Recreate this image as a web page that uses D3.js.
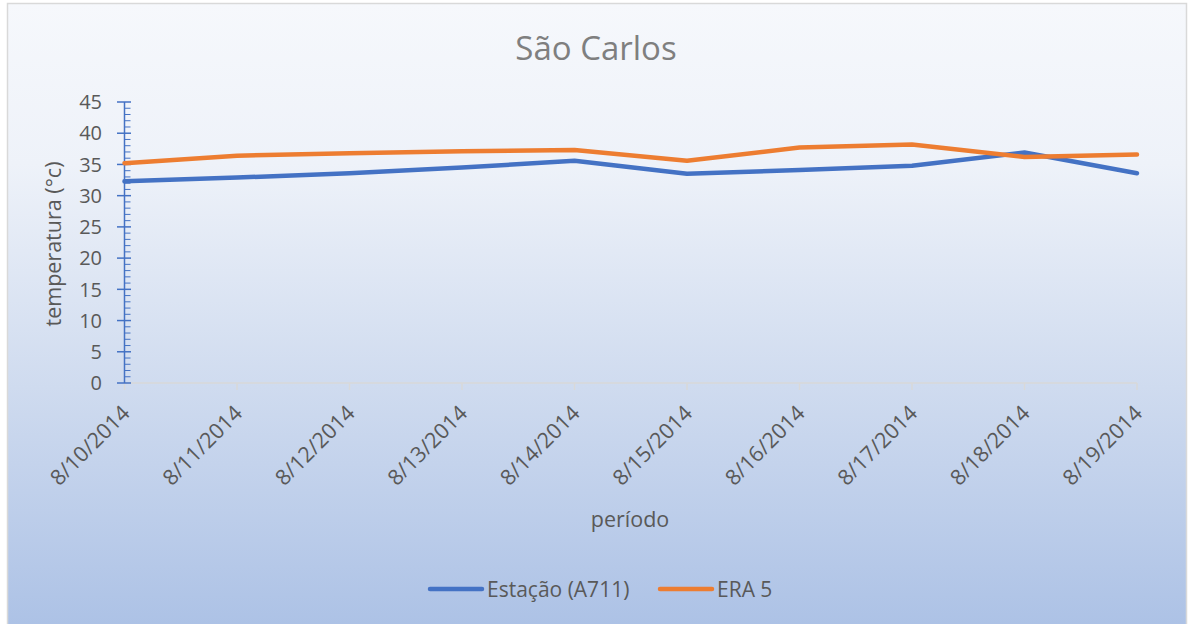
<!DOCTYPE html>
<html><head><meta charset="utf-8">
<script src="https://cdn.jsdelivr.net/npm/d3@7"></script>
<style>html,body{margin:0;padding:0;background:#fff;}svg{display:block;}</style>
</head><body>
<svg id="c" width="1191" height="624"></svg>
<script>
const categories = ["8/10/2014","8/11/2014","8/12/2014","8/13/2014","8/14/2014","8/15/2014","8/16/2014","8/17/2014","8/18/2014","8/19/2014"];
const estacao = [32.3, 32.9, 33.6, 34.5, 35.6, 33.5, 34.1, 34.8, 36.9, 33.6];
const era5 = [35.2, 36.4, 36.8, 37.1, 37.3, 35.6, 37.7, 38.2, 36.2, 36.6];
const yTicks = [0,5,10,15,20,25,30,35,40,45];
const seriesNames = ["Estação (A711)", "ERA 5"];
const colors = ["#4472c4", "#ed7d31"];

const font = "'Open Sans', sans-serif";
const svg = d3.select("#c");
const defs = svg.append("defs");
const grad = defs.append("linearGradient").attr("id","bg").attr("x1",0).attr("y1",0).attr("x2",0).attr("y2",1);
grad.append("stop").attr("offset","0%").attr("stop-color","#f6f8fc");
grad.append("stop").attr("offset","25%").attr("stop-color","#eef2f9");
grad.append("stop").attr("offset","60%").attr("stop-color","#cfdbef");
grad.append("stop").attr("offset","100%").attr("stop-color","#aac0e5");

svg.append("rect").attr("x",7.5).attr("y",3.5).attr("width",1179).attr("height",640)
  .attr("fill","url(#bg)").attr("stroke","#d9d9d9").attr("stroke-width",1.5);

const x = d3.scalePoint().domain(categories).range([124.5, 1137]);
const y = d3.scaleLinear().domain([0,45]).range([383, 102]);

// x axis line + ticks
svg.append("line").attr("x1",124.5).attr("x2",1137).attr("y1",383).attr("y2",383)
  .attr("stroke","#d9d9d9").attr("stroke-width",1.5);
svg.selectAll(".xt").data(categories).enter().append("line")
  .attr("x1",d=>x(d)).attr("x2",d=>x(d)).attr("y1",383).attr("y2",390)
  .attr("stroke","#d9d9d9").attr("stroke-width",1.5);

// y axis
svg.append("line").attr("x1",124.5).attr("x2",124.5).attr("y1",y(45)).attr("y2",y(0))
  .attr("stroke","#4472c4").attr("stroke-width",1.5);
const minor = d3.range(0,46,1).filter(v=>v%5!==0);
svg.selectAll(".ymin").data(minor).enter().append("line")
  .attr("x1",124.5).attr("x2",130.5).attr("y1",d=>y(d)).attr("y2",d=>y(d))
  .attr("stroke","#4472c4").attr("stroke-width",1);
svg.selectAll(".ymaj").data(yTicks).enter().append("line")
  .attr("x1",117).attr("x2",131).attr("y1",d=>y(d)).attr("y2",d=>y(d))
  .attr("stroke","#4472c4").attr("stroke-width",1.5);
svg.selectAll(".yl").data(yTicks).enter().append("text")
  .attr("x",102).attr("y",d=>y(d)).attr("dy","0.36em").attr("text-anchor","end")
  .attr("font-family",font).attr("font-size",20).attr("fill","#595959").text(d=>d);

// x labels
svg.selectAll(".xl").data(categories).enter().append("text")
  .attr("transform",d=>`translate(${x(d)-4},${404}) rotate(-45)`)
  .attr("text-anchor","end").attr("dy","0.7em")
  .attr("font-family",font).attr("font-size",21.5).attr("fill","#595959").text(d=>d);

// lines
const line = d3.line().x((d,i)=>x(categories[i])).y(d=>y(d));
[estacao, era5].forEach((s,k)=>{
  svg.append("path").datum(s).attr("d",line).attr("fill","none")
    .attr("stroke",colors[k]).attr("stroke-width",4.5).attr("stroke-linejoin","round").attr("stroke-linecap","round");
});

// titles
svg.append("text").attr("x",596).attr("y",60).attr("text-anchor","middle")
  .attr("font-family",font).attr("font-size",33).attr("fill","#7f7f7f").text("São Carlos");
svg.append("text").attr("transform","translate(61,244) rotate(-90)").attr("text-anchor","middle")
  .attr("font-family",font).attr("font-size",21.5).attr("fill","#595959").text("temperatura (°c)");
svg.append("text").attr("x",630).attr("y",527).attr("text-anchor","middle")
  .attr("font-family",font).attr("font-size",21.5).attr("fill","#595959").text("período");

// legend
const leg = [{x:430, name:seriesNames[0], c:colors[0]},{x:660, name:seriesNames[1], c:colors[1]}];
leg.forEach(l=>{
  svg.append("line").attr("x1",l.x).attr("x2",l.x+52).attr("y1",589).attr("y2",589)
    .attr("stroke",l.c).attr("stroke-width",4.5).attr("stroke-linecap","round");
  svg.append("text").attr("x",l.x+57).attr("y",589).attr("dy","0.36em")
    .attr("font-family",font).attr("font-size",21).attr("fill","#595959").text(l.name);
});
</script>
</body></html>
